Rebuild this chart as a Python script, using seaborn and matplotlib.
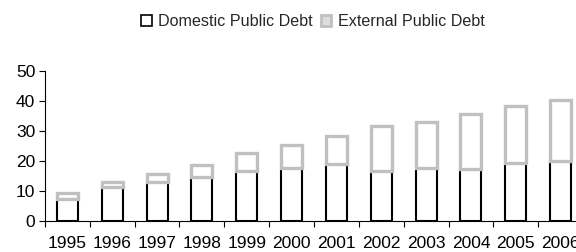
import matplotlib
matplotlib.use("Agg")
import matplotlib.pyplot as plt
import seaborn as sns
import pandas as pd
from matplotlib.patches import Patch

years = ["1995", "1996", "1997", "1998", "1999", "2000", "2001", "2002", "2003", "2004", "2005", "2006"]
domestic = [7.5, 11.2, 12.9, 14.6, 16.6, 17.7, 18.9, 16.6, 17.7, 17.2, 19.2, 19.9]
total = [9.4, 13.0, 15.8, 18.6, 22.8, 25.3, 28.4, 31.8, 33.1, 35.8, 38.4, 40.3]
external = [t - d for t, d in zip(total, domestic)]

df = pd.DataFrame({"year": years, "domestic": domestic, "external": external})

sns.set_theme(style="white")
plt.rcParams["font.family"] = ["Liberation Sans", "DejaVu Sans"]

fig = plt.figure(figsize=(5.76, 2.52), dpi=100)
ax = fig.add_axes([45 / 576, 1 - 221 / 252, 538 / 576, 150 / 252])

gray = "#c0c0c0"
sns.barplot(data=df, x="year", y="domestic", ax=ax, color="white",
            edgecolor="black", linewidth=1.5, width=0.47, zorder=2)
sns.barplot(data=df, x="year", y="external", ax=ax, color="white",
            edgecolor=gray, linewidth=2.4, width=0.47, bottom=df["domestic"].values, zorder=3)

ax.set_ylim(0, 50)
ax.set_xlim(-0.5, len(years) - 0.5)
ax.set_yticks([0, 10, 20, 30, 40, 50])
ax.set_xlabel("")
ax.set_ylabel("")
for s in ["top", "right"]:
    ax.spines[s].set_visible(False)
for s in ["left", "bottom"]:
    ax.spines[s].set_color("black")
    ax.spines[s].set_linewidth(0.8)

ax.set_xticks(range(len(years)))
ax.set_xticklabels(years)
ax.tick_params(axis="x", length=0, labelsize=12.5, pad=11, colors="black")
ax.tick_params(axis="y", length=4, width=0.8, labelsize=12.5, colors="black", left=True, pad=3)
ax.set_xticks([i - 0.5 for i in range(len(years) + 1)], minor=True)
ax.tick_params(axis="x", which="minor", length=4, width=0.8, bottom=True, color="black")

handles = [Patch(facecolor="white", edgecolor="black", linewidth=1.2, label="Domestic Public Debt"),
           Patch(facecolor="#dddddd", edgecolor=gray, linewidth=2.0, label="External Public Debt")]
fig.legend(handles=handles, loc="center", bbox_to_anchor=(313 / 576, 1 - 22 / 252), ncol=2,
           frameon=False, fontsize=11.6, handlelength=0.65, handleheight=0.65,
           handletextpad=0.4, columnspacing=0.5)

fig.savefig("out.png", dpi=100)
